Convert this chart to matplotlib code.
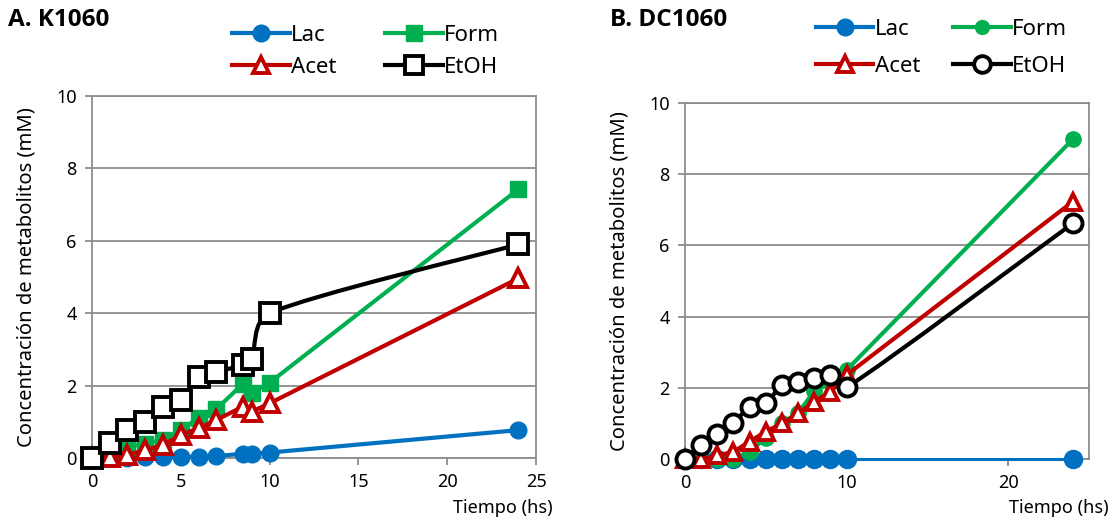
import matplotlib
matplotlib.use('Agg')
import matplotlib.pyplot as plt
import numpy as np
from matplotlib.path import Path
from matplotlib.patches import PathPatch
from matplotlib.lines import Line2D

plt.rcParams['font.family'] = ['Noto Sans', 'DejaVu Sans']

# Tiempos de muestreo (hs)
tiempo = [0, 1, 2, 3, 4, 5, 6, 7, 8.5, 9, 10, 24]
tiempo_b = [0, 1, 2, 3, 4, 5, 6, 7, 8, 9, 10, 24]

# A. K1060 (mM)
lac_a = [0, 0, 0, 0.02, 0.02, 0.03, 0.04, 0.05, 0.12, 0.12, 0.15, 0.77]
form_a = [0, 0.1, 0.3, 0.4, 0.5, 0.78, 1.1, 1.35, 2.05, 1.8, 2.08, 7.42]
acet_a = [0, 0.02, 0.08, 0.22, 0.36, 0.64, 0.82, 1.05, 1.42, 1.28, 1.51, 4.96]
etoh_a = [0, 0.41, 0.77, 1.0, 1.42, 1.6, 2.25, 2.38, 2.57, 2.73, 4.0, 5.9]

# B. DC1060 (mM)
lac_b = [0, 0, 0, 0, 0, 0, 0, 0, 0, 0, 0, 0]
form_b = [0, 0, 0, 0, 0.2, 0.6, 1.0, 1.3, 1.9, 2.15, 2.5, 8.98]
acet_b = [0, 0, 0.1, 0.2, 0.49, 0.77, 1.0, 1.28, 1.61, 1.89, 2.36, 7.23]
etoh_b = [0, 0.39, 0.69, 1.0, 1.47, 1.56, 2.08, 2.17, 2.27, 2.36, 2.01, 6.62]

azul = '#0070C0'
verde = '#00B050'
rojo = '#C00000'
negro = '#000000'
gris = '#8C8C8C'


def linea_suave(ax, x, y, color, lw):
    # curva tipo Bezier (Catmull-Rom) que pasa por todos los puntos
    pts = ax.transData.transform(np.column_stack([x, y]))
    n = len(pts)
    verts = [pts[0]]
    codes = [Path.MOVETO]
    for i in range(n - 1):
        p0 = pts[max(i - 1, 0)]
        p1 = pts[i]
        p2 = pts[i + 1]
        p3 = pts[min(i + 2, n - 1)]
        seg = np.hypot(*(p2 - p1))
        t1 = (p2 - p0) / 6
        t2 = (p3 - p1) / 6
        l1 = np.hypot(*t1)
        l2 = np.hypot(*t2)
        if l1 > 0.4 * seg:
            t1 = t1 * 0.4 * seg / l1
        if l2 > 0.4 * seg:
            t2 = t2 * 0.4 * seg / l2
        verts += [p1 + t1, p2 - t2, p2]
        codes += [Path.CURVE4] * 3
    verts = ax.transData.inverted().transform(np.array(verts))
    patch = PathPatch(Path(verts, codes), fill=False, edgecolor=color, lw=lw,
                      capstyle='round', joinstyle='round', clip_on=False, zorder=4)
    ax.add_patch(patch)


def preparar_ejes(ax, xmax, xticks):
    ax.set_xlim(0, xmax)
    ax.set_ylim(0, 10)
    ax.set_xticks(xticks)
    ax.set_yticks([0, 2, 4, 6, 8, 10])
    ax.grid(axis='y', color=gris, lw=1.3)
    ax.set_axisbelow(True)
    for s in ax.spines.values():
        s.set_color(gris)
        s.set_linewidth(1.3)
    ax.tick_params(colors=gris, labelcolor='black', labelsize=13, width=1.3, length=5, pad=6)
    ax.set_ylabel('Concentración de metabolitos (mM)', fontsize=14.5, labelpad=14)


fig = plt.figure(figsize=(11.16, 5.26), dpi=100)
lw = 3.0
titulo = dict(fontsize=17.5, fontweight='bold', va='center', family=['Open Sans', 'DejaVu Sans'])

# ---------- A. K1060 ----------
ax1 = fig.add_axes([0.0824, 0.1293, 0.3979, 0.6882])
preparar_ejes(ax1, 25, [0, 5, 10, 15, 20, 25])
ax1.plot(tiempo, lac_a, color=azul, lw=lw, marker='o', ms=12, mec=azul, clip_on=False, zorder=3)
ax1.plot(tiempo, form_a, color=verde, lw=lw, marker='s', ms=12, mec=verde, clip_on=False, zorder=3)
ax1.plot(tiempo, acet_a, color=rojo, lw=lw, marker='^', ms=13, mfc='white', mec=rojo, mew=2.8,
         clip_on=False, zorder=3)
linea_suave(ax1, tiempo, etoh_a, negro, lw)
ax1.plot(tiempo, etoh_a, ls='none', marker='s', ms=14, mfc='white', mec=negro, mew=2.8,
         clip_on=False, zorder=5)
fig.text(0.007, 0.962, 'A. K1060', **titulo)
fig.text(0.495, 0.018, 'Tiempo (hs)', ha='right', va='bottom', fontsize=13)

# ---------- B. DC1060 ----------
ax2 = fig.add_axes([0.6138, 0.1274, 0.362, 0.6768])
preparar_ejes(ax2, 25, [0, 10, 20])
ax2.plot(tiempo_b, lac_b, color=azul, lw=2.2, marker='o', ms=13, mec=azul, clip_on=False, zorder=3)
ax2.plot(tiempo_b, form_b, color=verde, lw=lw, marker='o', ms=11, mec=verde, clip_on=False, zorder=3)
ax2.plot(tiempo_b, acet_b, color=rojo, lw=lw, marker='^', ms=12, mfc='white', mec=rojo, mew=2.8,
         clip_on=False, zorder=3)
linea_suave(ax2, tiempo_b, etoh_b, negro, lw)
ax2.plot(tiempo_b, etoh_b, ls='none', marker='o', ms=13, mfc='white', mec=negro, mew=2.8,
         clip_on=False, zorder=5)
fig.text(0.547, 0.962, 'B. DC1060', **titulo)
fig.text(0.993, 0.018, 'Tiempo (hs)', ha='right', va='bottom', fontsize=13)

# leyendas
h_a = [Line2D([], [], color=azul, lw=lw, marker='o', ms=12),
       Line2D([], [], color=rojo, lw=lw, marker='^', ms=12, mfc='white', mec=rojo, mew=2.8),
       Line2D([], [], color=verde, lw=lw, marker='s', ms=12),
       Line2D([], [], color=negro, lw=lw, marker='s', ms=13, mfc='white', mec=negro, mew=2.8)]
fig.legend(h_a, ['Lac', 'Acet', 'Form', 'EtOH'], ncol=2, loc='center left',
           bbox_to_anchor=(0.190, 0.902), frameon=False, fontsize=16, handlelength=2.6,
           handletextpad=0.05, columnspacing=2.2, labelspacing=0.5)

h_b = [Line2D([], [], color=azul, lw=lw, marker='o', ms=12),
       Line2D([], [], color=rojo, lw=lw, marker='^', ms=12, mfc='white', mec=rojo, mew=2.8),
       Line2D([], [], color=verde, lw=lw, marker='o', ms=10),
       Line2D([], [], color=negro, lw=lw, marker='o', ms=12, mfc='white', mec=negro, mew=2.8)]
fig.legend(h_b, ['Lac', 'Acet', 'Form', 'EtOH'], ncol=2, loc='center left',
           bbox_to_anchor=(0.713, 0.909), frameon=False, fontsize=16, handlelength=2.6,
           handletextpad=0.05, columnspacing=1.5, labelspacing=0.75)

fig.savefig('out.png', dpi=100)
